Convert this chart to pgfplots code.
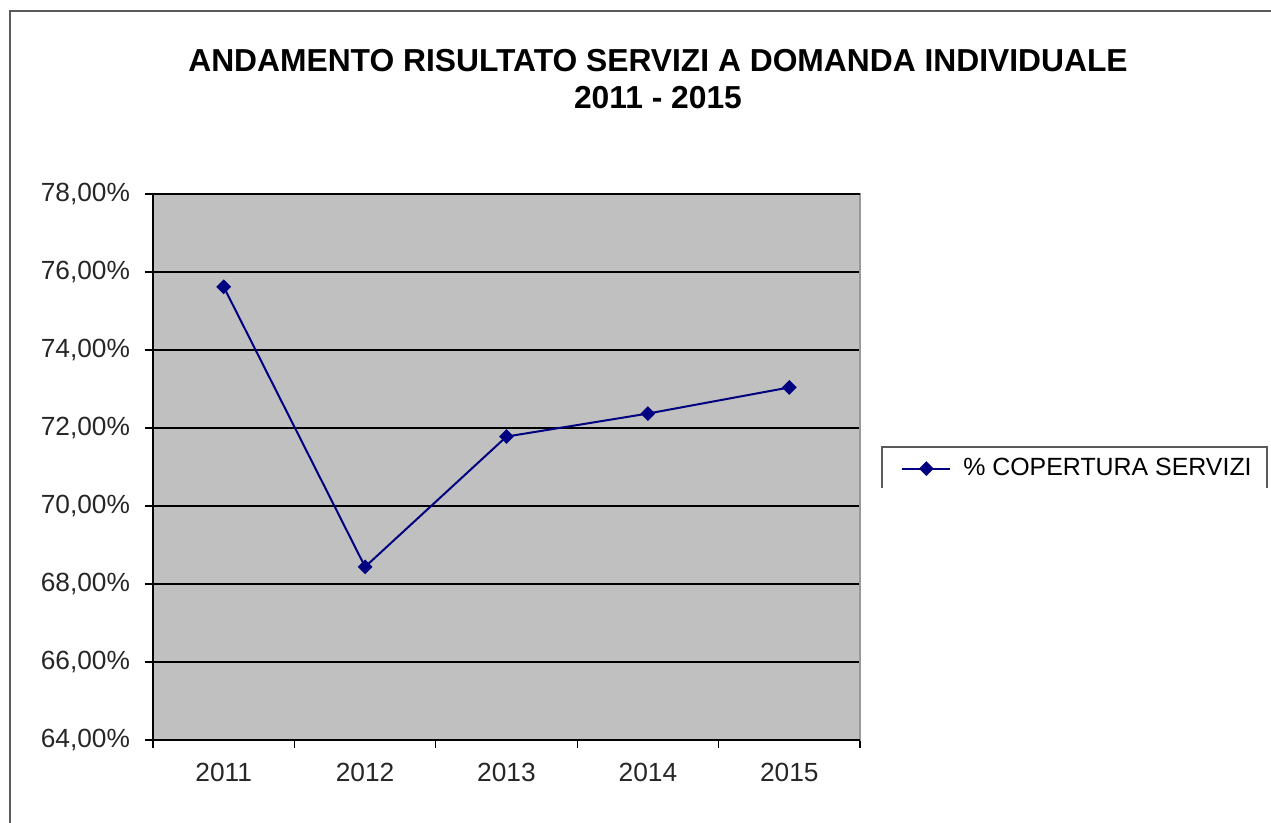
\documentclass[border=0pt]{standalone}
\usepackage{pgfplots}
\pgfplotsset{compat=1.18}
\usepackage{fontspec}
\setmainfont{Liberation Sans}
\definecolor{plotbg}{RGB}{192,192,192}
\definecolor{navyline}{RGB}{0,0,128}
\definecolor{framegray}{RGB}{90,90,90}
\begin{document}
\begin{tikzpicture}
\useasboundingbox (-76.5bp,-41.5bp) rectangle (559bp,370bp);
\begin{axis}[
  at={(0,0)}, anchor=south west,
  scale only axis,
  width=353.5bp, height=273bp,
  xmin=-0.5, xmax=4.5,
  ymin=64, ymax=78,
  axis background/.style={fill=plotbg},
  axis line style={draw=gray!80, line width=0.8bp},
  ytick={64,66,68,70,72,74,76,78},
  yticklabels={{64,00\%},{66,00\%},{68,00\%},{70,00\%},{72,00\%},{74,00\%},{76,00\%},{78,00\%}},
  xtick={0,1,2,3,4},
  xticklabels={2011,2012,2013,2014,2015},
  minor xtick={-0.5,0.5,1.5,2.5,3.5,4.5},
  major x tick style={draw=none},
  minor x tick style={black, line width=0.6bp},
  major y tick style={black, line width=0.6bp},
  tick align=outside,
  major tick length=4bp,
  minor tick length=4bp,
  xtick pos=bottom, ytick pos=left,
  ymajorgrids, grid style={black, line width=0.6bp},
  ticklabel style={font=\fontsize{13.2}{15}\selectfont, text=black!85},
  yticklabel style={xshift=-4bp},
  xticklabel style={yshift=-4bp},
  legend style={at={(rel axis cs:1.031,0.497)}, anchor=west, draw=none, fill=none,
    font=\fontsize{12.5}{14}\selectfont, inner xsep=9.5bp, inner ysep=2bp,
    nodes={inner xsep=6bp}},
  legend cell align=left,
  legend image code/.code={\draw[#1, mark repeat=2, mark phase=2] plot coordinates {(0bp,0bp)(12bp,0bp)(24bp,0bp)};},
  clip=false,
]
\addplot[navyline, line width=1bp, mark=diamond*, mark size=3bp, mark options={solid, fill=navyline, xscale=1.33}]
  coordinates {(0,75.62) (1,68.44) (2,71.78) (3,72.37) (4,73.04)};
\addlegendentry{\% COPERTURA SERVIZI}
\draw[black, line width=0.9bp] (rel axis cs:1,1) -- (rel axis cs:0,1) -- (rel axis cs:0,0) -- (rel axis cs:1,0);
\draw[framegray, line width=0.7bp] (rel axis cs:1.031,0.4615) -- (rel axis cs:1.031,0.5366) -- (rel axis cs:1.5756,0.5366) -- (rel axis cs:1.5756,0.4615);
\end{axis}
\draw[framegray, line width=0.8bp] (-71.5bp,-41.5bp) -- (-71.5bp,364.5bp) -- (559bp,364.5bp);
\node[align=center, font=\bfseries\fontsize{15.95}{19}\selectfont, inner sep=0pt] at (252.5bp,330.5bp)
  {ANDAMENTO RISULTATO SERVIZI A DOMANDA INDIVIDUALE\\2011 - 2015};
\end{tikzpicture}
\end{document}
